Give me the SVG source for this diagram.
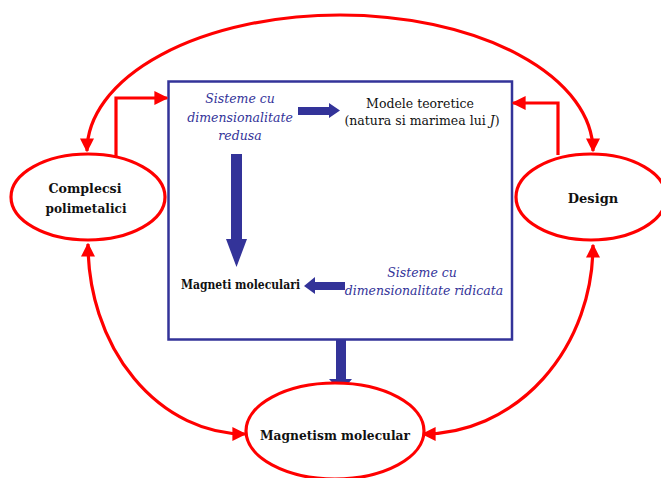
<svg xmlns="http://www.w3.org/2000/svg" width="661" height="478" viewBox="0 0 661 478">
<style>
.red{fill:none;stroke:#ff0000;stroke-width:3.2}
.node{fill:#ffffff;stroke:#ff0000;stroke-width:3.2}
text{font-family:'DejaVu Serif','Liberation Serif',serif}
.blk{fill:#111111;text-anchor:middle}
.b{font-weight:bold}
.it{font-style:italic;fill:#333399;text-anchor:middle}
.barrow{fill:#333399}
</style>
<defs>
<marker id="ah" viewBox="0 0 10 10" refX="9" refY="5" markerUnits="userSpaceOnUse" markerWidth="14" markerHeight="14" orient="auto-start-reverse">
<path d="M0,0 L10,5 L0,10 z" fill="#ff0000"/>
</marker>
</defs>
<rect width="661" height="478" fill="#ffffff"/>
<g id="box">
<rect x="168.5" y="81.5" width="343.5" height="258" fill="#ffffff" stroke="#333399" stroke-width="2.5"/>
</g>
<g id="connectors">
<path class="red" d="M87 151 A253 136 0 0 1 593 151" marker-start="url(#ah)" marker-end="url(#ah)"/>
<path class="red" d="M116 156 V98 H167" marker-end="url(#ah)"/>
<path class="red" d="M558 155 V103 H513" marker-end="url(#ah)"/>
<path class="red" d="M88 244 A157 190 0 0 0 245 434" marker-start="url(#ah)" marker-end="url(#ah)"/>
<path class="red" d="M593 245 A170 189 0 0 1 423 434" marker-start="url(#ah)" marker-end="url(#ah)"/>
<path class="barrow" d="M298,107 H329 V103 L340,110.5 L329,118 V115 H298 Z"/>
<path class="barrow" d="M231,154 H242 V239 H247 L236.5,267 L226,239 H231 Z"/>
<path class="barrow" d="M345,282 H315 V277 L304,286 L315,294 V290 H345 Z"/>
<path class="barrow" d="M336,340 H346 V379 H352 L341,392 L329,379 H336 Z"/>
</g>
<g id="node-complecsi">
<ellipse class="node" cx="88" cy="197" rx="77" ry="43"/>
<text class="blk b" x="85" y="193" font-size="13" textLength="73" lengthAdjust="spacingAndGlyphs">Complecsi</text>
<text class="blk b" x="86" y="213" font-size="13" textLength="81" lengthAdjust="spacingAndGlyphs">polimetalici</text>
</g>
<g id="node-design">
<ellipse class="node" cx="591" cy="197" rx="75" ry="43"/>
<text class="blk b" x="593" y="203" font-size="13">Design</text>
</g>
<g id="node-magnetism">
<ellipse class="node" cx="335" cy="431" rx="89" ry="48"/>
<text class="blk b" x="335" y="440" font-size="13" textLength="150" lengthAdjust="spacingAndGlyphs">Magnetism molecular</text>
</g>
<g id="node-sisteme-redusa">
<text class="it" x="240" y="103" font-size="12.5">Sisteme cu</text>
<text class="it" x="240" y="122" font-size="12.5">dimensionalitate</text>
<text class="it" x="240" y="140" font-size="12.5">redusa</text>
</g>
<g id="node-modele">
<text class="blk" x="420" y="108" font-size="12.5">Modele teoretice</text>
<text class="blk" x="422" y="125" font-size="12.5">(natura si marimea lui <tspan font-style="italic">J</tspan>)</text>
</g>
<g id="node-magneti">
<text class="blk b" x="240.5" y="289" font-size="12.5" textLength="119" lengthAdjust="spacingAndGlyphs">Magneti moleculari</text>
</g>
<g id="node-sisteme-ridicata">
<text class="it" x="422" y="277" font-size="12.5">Sisteme cu</text>
<text class="it" x="424" y="295" font-size="12.5">dimensionalitate ridicata</text>
</g>
</svg>
